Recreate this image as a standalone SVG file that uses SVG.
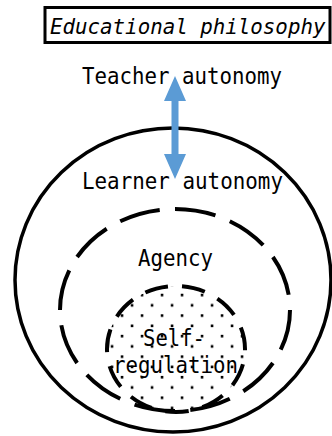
<svg xmlns="http://www.w3.org/2000/svg" width="332" height="436" viewBox="0 0 332 436">
  <style>
    .lbl { font-family: "DejaVu Sans Mono", "Liberation Mono", monospace; font-size: 23px; fill: #000; }
    .ttl { font-family: "DejaVu Sans Mono", "Liberation Mono", monospace; font-size: 20.8px; font-style: italic; fill: #000; }
    .solid { fill: none; stroke: #000; stroke-width: 3.5; }
    .dash { fill: none; stroke: #000; stroke-width: 4; }
  </style>
  <defs>
    <!-- staggered square dots for the self-regulation core -->
    <pattern id="dots" patternUnits="userSpaceOnUse" x="0" y="293.75" width="20" height="20.54">
      <rect x="0.75" y="0" width="2.6" height="2.6" fill="#000"/>
      <rect x="10.75" y="10.27" width="2.6" height="2.6" fill="#000"/>
    </pattern>
  </defs>

  <rect width="332" height="436" fill="#fff"/>

  <g id="title">
    <rect x="45" y="7.5" width="285" height="35" fill="#fff" stroke="#000" stroke-width="3"/>
    <text class="ttl" x="50" y="33.5">Educational philosophy</text>
  </g>

  <g id="teacher-autonomy">
    <text class="lbl" x="82" y="84" textLength="200" lengthAdjust="spacingAndGlyphs">Teacher autonomy</text>
  </g>

  <g id="learner-autonomy">
    <ellipse class="solid" cx="173" cy="280" rx="158" ry="152"/>
    <text class="lbl" x="82" y="189" textLength="201" lengthAdjust="spacingAndGlyphs">Learner autonomy</text>
  </g>

  <g id="agency">
    <path class="dash" d="M175 209 A115 101 0 0 1 175 411 A115 101 0 0 1 175 209 Z" pathLength="660" stroke-dasharray="40 15"/>
    <text class="lbl" x="138" y="266" textLength="75" lengthAdjust="spacingAndGlyphs">Agency</text>
  </g>

  <g id="self-regulation">
    <ellipse cx="176" cy="349" rx="69" ry="63" fill="url(#dots)"/>
    <path class="dash" d="M176 286 A69 63 0 0 1 176 412 A69 63 0 0 1 176 286 Z" pathLength="407" stroke-dasharray="23 14" stroke-dashoffset="-6"/>
    <text class="lbl" x="143" y="346" textLength="62" lengthAdjust="spacingAndGlyphs">Self-</text>
    <text class="lbl" x="113" y="373" textLength="125" lengthAdjust="spacingAndGlyphs">regulation</text>
  </g>

  <g id="connectors">
    <!-- two-way arrow between teacher and learner autonomy -->
    <polygon fill="#5b9bd5" points="175,76 186,101 178.5,101 178.5,154 186,154 175,179 164,154 171.5,154 171.5,101 164,101"/>
  </g>
</svg>
